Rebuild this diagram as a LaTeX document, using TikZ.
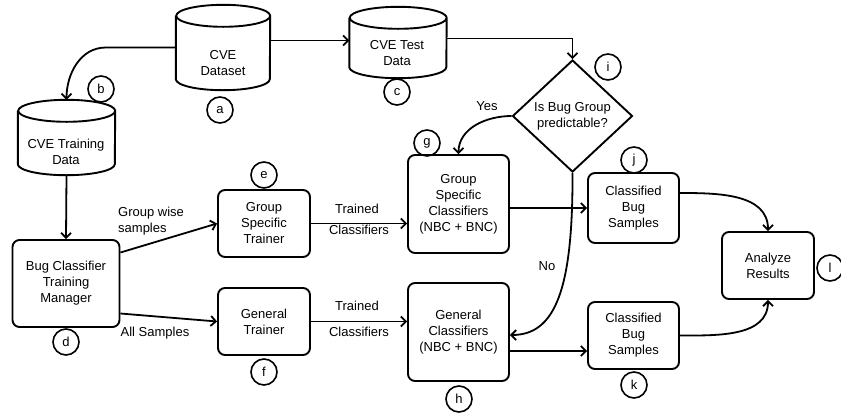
\documentclass[tikz,border=0pt]{standalone}
\usepackage{fontspec}
\setmainfont{Liberation Sans}
\usetikzlibrary{shapes.geometric, arrows.meta, calc}
\newcommand\drawdb[2]{\draw[line width=1.9pt] ([yshift=-11pt]#1.north west) -- ([yshift=11pt]#1.south west) arc[start angle=180,end angle=360,x radius=#2,y radius=11pt] -- ([yshift=-11pt]#1.north east) arc[start angle=0,end angle=360,x radius=#2,y radius=11pt];}
\begin{document}
\begin{tikzpicture}[x=1pt,y=-1pt,
  font=\fontsize{13}{16}\selectfont,
  box/.style={draw, line width=1.9pt, rounded corners=7pt, align=center, inner sep=0},
  db/.style={rectangle, inner sep=0},
  tag/.style={draw, circle, line width=1.6pt, minimum size=26pt, inner sep=0},
  arr/.style={line width=1.8pt, -{Straight Barb[length=5pt,width=10pt]}},
  lbl/.style={align=center, inner sep=0}]
\useasboundingbox (0,0) rectangle (841,416);

% cylinders
\node[db, minimum width=94pt, minimum height=85pt] (ds) at (223,47.5) {};
\node[lbl] (dst) at (223,63) {CVE\\Dataset};
\node[db, minimum width=97pt, minimum height=71pt] (test) at (398,42.5) {};
\node[lbl] (testt) at (397,53) {CVE Test\\Data};
\node[db, minimum width=97pt, minimum height=75pt] (tr) at (66.5,137.5) {};
\node[lbl] (trt) at (66,152) {CVE Training\\Data};
\drawdb{ds}{47pt}
\drawdb{test}{48.5pt}
\drawdb{tr}{48.5pt}

% boxes
\node[box, minimum width=107pt, minimum height=87pt] (d) at (66,283.5) {Bug Classifier\\Training\\Manager};
\node[box, minimum width=92pt, minimum height=67pt] (e) at (264,223.5) {Group\\Specific\\Trainer};
\node[box, minimum width=92pt, minimum height=67pt] (f) at (264,321.5) {General\\Trainer};
\node[box, minimum width=101pt, minimum height=98pt] (g) at (458.5,204) {Group\\Specific\\Classifiers\\(NBC + BNC)};
\node[box, minimum width=101pt, minimum height=98pt] (h) at (458.5,332) {General\\Classifiers\\(NBC + BNC)};
\node[box, minimum width=91pt, minimum height=70pt] (j) at (633.5,208) {Classified\\Bug\\Samples};
\node[box, minimum width=91pt, minimum height=67pt] (k) at (633.5,335.5) {Classified\\Bug\\Samples};
\node[box, minimum width=92pt, minimum height=67pt] (l) at (768,265.5) {Analyze\\Results};

% decision
\node[draw, diamond, line width=1.9pt, minimum width=120pt, minimum height=112pt, inner sep=0, align=center] (dia) at (572.5,116) {Is Bug Group\\predictable?};

% tags
\node[tag] (ta) at (220,110) {a};
\node[tag] (tb) at (101,89) {b};
\node[tag] (tc) at (397,92) {c};
\node[tag] (td) at (66,342) {d};
\node[tag] (te) at (264,175) {e};
\node[tag] (tf) at (264,372) {f};
\node[tag] (tg) at (427,143) {g};
\node[tag] (th) at (459,399) {h};
\node[tag] (ti) at (608,67) {i};
\node[tag] (tj) at (634,160) {j};
\node[tag] (tk) at (634,385) {k};
\node[tag] (tl) at (830,268) {l};

% connectors
\draw[arr] ([yshift=7pt]ds.east) -- ([yshift=7pt]ds.east -| test.west);
\draw[arr] ([yshift=4pt]test.east) -| (dia.north);
\draw[arr] (ds.west) -- ++(-70,0) to[out=180,in=90] (tr.north);
\draw[arr] (tr.south) -- (d.north);
\draw[arr] ([yshift=31pt]d.east) -- (e.west);
\draw[arr] ([yshift=-30pt]d.east) -- (f.west);
\draw[arr] (e.east) -- (e.east -| g.west);
\draw[arr] (f.east) -- (f.east -| h.west);
\draw[arr] (g.east |- j.west) -- (j.west);
\draw[arr] ([yshift=-19pt]h.east) -- ([yshift=-19pt]h.east -| k.west);
\draw[arr] (dia.west) to[out=180,in=90] (g.north);
\draw[arr] (dia.south) .. controls (573,290) and (555,335) .. ([yshift=-3pt]h.east);
\draw[arr] ([yshift=15pt]j.east) to[out=0,in=90] (l.north);
\draw[arr] (k.east) to[out=0,in=-90] (l.south);

% edge labels
\node[lbl, anchor=west, align=left] (lgw) at (118,221) {Group wise\\samples};
\node[lbl] (las) at (155,333) {All Samples};
\node[lbl] (ltr1) at (357,209) {Trained};
\node[lbl] (lcl1) at (359,230) {Classifiers};
\node[lbl] (ltr2) at (357,306) {Trained};
\node[lbl] (lcl2) at (359,332) {Classifiers};
\node[lbl] (lyes) at (487,106) {Yes};
\node[lbl] (lno) at (547,266) {No};
\end{tikzpicture}
\end{document}
